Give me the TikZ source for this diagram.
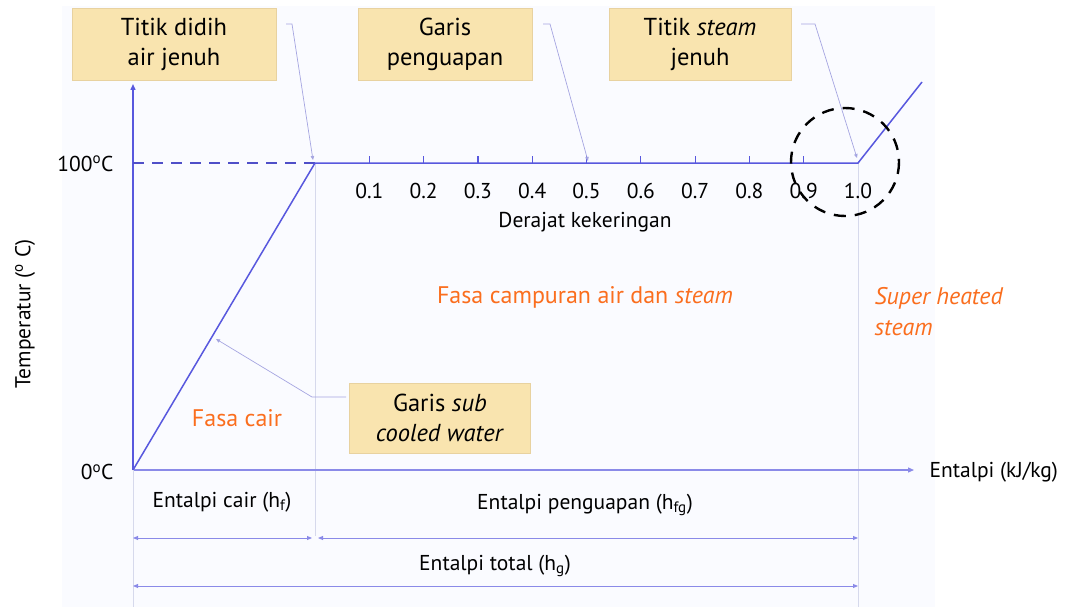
\documentclass[tikz,border=0pt]{standalone}
\usepackage{fontspec}
\setmainfont{PT Sans}
\usetikzlibrary{arrows.meta,calc}
\definecolor{curve}{RGB}{88,88,222}
\definecolor{guide}{RGB}{214,217,236}
\definecolor{leader}{RGB}{165,165,225}
\definecolor{boxfill}{RGB}{249,228,175}
\definecolor{boxline}{RGB}{232,210,160}
\definecolor{phase}{RGB}{250,110,30}
\definecolor{panel}{RGB}{250,251,255}
\tikzset{
  callout/.style={draw=boxline,fill=boxfill,align=center,inner sep=2pt,font=\fontsize{24.5}{30}\selectfont},
  plotline/.style={draw=curve,line width=1.5pt},
  guideline/.style={draw=guide,line width=0.8pt},
  leaderline/.style={draw=leader,line width=0.7pt,-{Triangle[length=4pt,width=3.5pt]}},
  dimline/.style={draw=curve!70,line width=0.9pt,{Triangle[length=5pt,width=4pt]}-{Triangle[length=5pt,width=4pt]}},
  axislabel/.style={font=\fontsize{21.5}{26}\selectfont,text=black},
  phaselabel/.style={font=\fontsize{24}{31}\selectfont,text=phase},
  ticklabel/.style={font=\fontsize{21.5}{26}\selectfont}
}
\begin{document}
\begin{tikzpicture}[x=1pt,y=-1pt]
\useasboundingbox (0,0) rectangle (1065,607);
\fill[white] (0,0) rectangle (1065,607);
\fill[panel] (62,6) rectangle (935,607);

% key points of the curve
\coordinate (O) at (133,470);
\coordinate (Ytop) at (133,84);
\coordinate (Xend) at (914,470);
\coordinate (T100) at (133,163);
\coordinate (A) at (315,163);
\coordinate (B) at (858,163);
\coordinate (C) at (922,82);

% vertical guides
\draw[guideline] (A) -- (315,536);
\draw[guideline] (B) -- (858,607);

% axes
\draw[draw=curve,line width=1.4pt,-{Triangle[length=6pt,width=5pt]}] (O) -- (Ytop);
\draw[draw=curve!70,line width=1.2pt,-{Triangle[length=6pt,width=5pt]}] (O) -- (Xend);
\draw[draw=curve!90!black,line width=1.5pt,dash pattern=on 11pt off 8pt] (T100) -- (A);

% heating curve
\draw[plotline] (O) -- (A) -- (B) -- (C);

% dryness fraction ticks
\foreach \i/\lab in {1/0.1,2/0.2,3/0.3,4/0.4,5/0.5,6/0.6,7/0.7,8/0.8,9/0.9} {
  \draw[draw=curve,line width=1.2pt] ($(A)+(54.3*\i,0)$) -- ++(0,-7);
  \node[ticklabel] (t\i) at ($(A)+(54.3*\i,28)$) {\lab};
}
\node[ticklabel] (t10) at ($(B)+(0,28)$) {1.0};
\node[ticklabel] (dk) at (585,222) {Derajat kekeringan};

% highlighted saturation point
\draw[black,line width=2.4pt,dash pattern=on 12pt off 9pt] (845,162) circle (54);

% axis labels
\node[axislabel,anchor=east] (l100) at (117,164) {100\textsuperscript{o}C};
\node[axislabel,anchor=east] (l0) at (117,472) {0\textsuperscript{o}C};
\node[axislabel,rotate=90] (ly) at (25,314) {Temperatur (\textsuperscript{o} C)};
\node[axislabel,anchor=west] (lx) at (926,472) {Entalpi (kJ/kg)};

% callouts
\node[callout,minimum width=204pt,minimum height=72pt] (b1) at (174,44) {Titik didih\\air jenuh};
\node[callout,minimum width=174pt,minimum height=72pt] (b2) at (445,44) {Garis\\penguapan};
\node[callout,minimum width=182pt,minimum height=72pt] (b3) at (700,44) {Titik \textit{steam}\\jenuh};
\node[callout,minimum width=181pt,minimum height=70pt] (b4) at (440,418) {Garis \textit{sub}\\\textit{cooled water}};

% leaders
\coordinate (k1) at (286,24); \coordinate (k1b) at (292,24);
\coordinate (k2) at (543,24); \coordinate (k2b) at (550,24);
\coordinate (k3) at (801,24); \coordinate (k3b) at (815,24);
\coordinate (k4) at (346,397); \coordinate (k4b) at (312,397);
\coordinate (p1) at (313,160);
\coordinate (p2) at (588,161);
\coordinate (p3) at (857,158);
\coordinate (p4) at (216,339);
\draw[leaderline] (k1) -- (k1b) -- (p1);
\draw[leaderline] (k2) -- (k2b) -- (p2);
\draw[leaderline] (k3) -- (k3b) -- (p3);
\draw[leaderline] (k4) -- (k4b) -- (p4);

% phase labels
\node[phaselabel] (f1) at (237,418) {Fasa cair};
\node[phaselabel] (f2) at (585,297) {Fasa campuran air dan \textit{steam}};
\node[phaselabel,anchor=west,align=left] (f3) at (871,312) {\textit{Super heated}\\\textit{steam}};

% enthalpy dimensions
\coordinate (d1a) at (133,538); \coordinate (d1b) at (312,538);
\coordinate (d2a) at (318,538); \coordinate (d2b) at (858,538);
\coordinate (d3a) at (133,586); \coordinate (d3b) at (858,586);
\draw[guideline] (O) -- (133,607);
\draw[dimline] (d1a) -- (d1b);
\draw[dimline] (d2a) -- (d2b);
\draw[dimline] (d3a) -- (d3b);
\node[axislabel] (e1) at (222,502) {Entalpi cair (h\textsubscript{f})};
\node[axislabel] (e2) at (585,505) {Entalpi penguapan (h\textsubscript{fg})};
\node[axislabel] (e3) at (495,566) {Entalpi total (h\textsubscript{g})};
\end{tikzpicture}
\end{document}
